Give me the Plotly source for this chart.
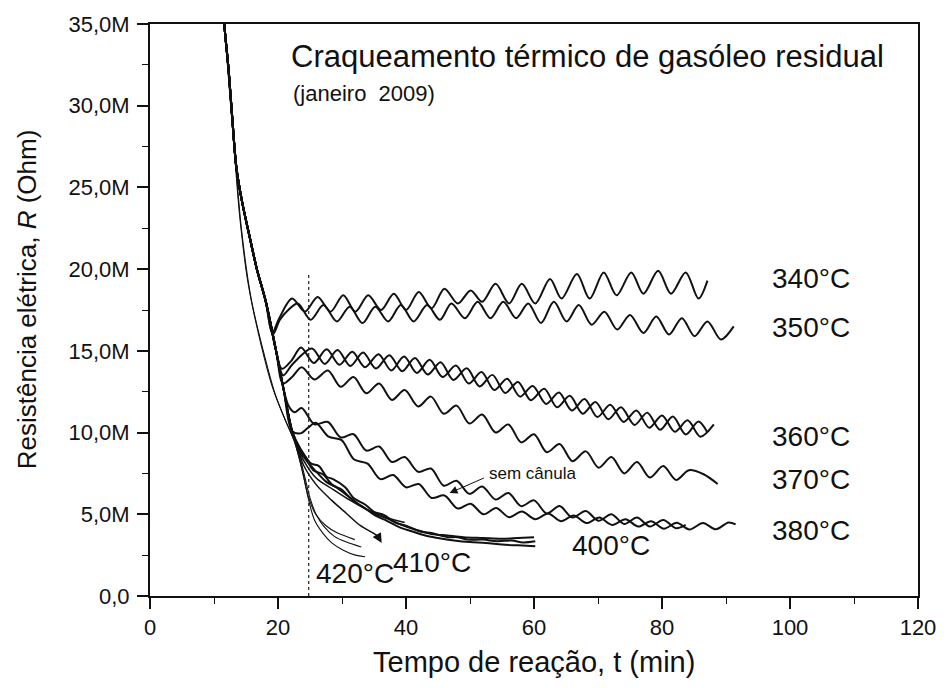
import plotly.graph_objects as go

# ---------------------------------------------------------------------------
# Data: reaction time t (min) and electrical resistance R (MOhm)
# ---------------------------------------------------------------------------

# common initial decay shared by the runs
decay_t = [11.0, 11.6, 12.3, 12.9, 13.5, 14.4, 15.5, 16.7, 18.1, 19.7, 20.9, 22.2, 23.6, 24.8, 26.4]
decay_r = [38.3, 35.0, 32.1, 29.0, 26.2, 24.1, 22.1, 20.0, 18.0, 15.0, 12.6, 10.1, 8.0, 6.0, 4.45]

# slightly earlier decays (two of the 420 °C runs)
early_a_t = [11.0, 11.6, 12.3, 12.9, 13.4, 14.3, 15.8, 17.7, 19.6, 21.2]
early_a_r = [38.3, 35.0, 32.1, 29.0, 26.4, 22.4, 18.2, 15.0, 12.3, 10.7]
early_b_t = [11.0, 11.6, 12.2, 12.8, 13.3, 14.0, 15.3, 17.1, 19.2, 21.0]
early_b_r = [38.3, 35.0, 32.0, 29.0, 26.6, 23.3, 19.2, 15.8, 12.7, 10.9]

t_340 = [19.1, 20.2, 22.2, 24.2, 26.2, 28.2, 30.2, 32.1, 34.1, 36.1, 38.1, 40.0, 42.0, 44.0, 46.0,
         48.1, 50.1, 51.9, 54.0, 56.1, 58.1, 60.2, 62.5, 64.3, 66.7, 68.7, 70.9, 72.9, 75.2, 77.1,
         79.4, 81.4, 83.7, 85.7, 87.1]
r_340 = [16.1, 17.0, 18.2, 17.4, 18.3, 17.4, 18.4, 17.4, 18.4, 17.5, 18.5, 17.5, 18.6, 17.6, 18.8,
         17.9, 18.7, 18.0, 19.1, 17.9, 19.1, 17.9, 19.4, 18.2, 19.7, 18.2, 19.8, 18.4, 19.8, 18.5,
         19.9, 18.5, 19.8, 18.2, 19.3]

t_350 = [19.2, 20.3, 21.6, 23.1, 25.1, 27.1, 29.2, 31.2, 33.2, 35.2, 37.2, 39.2, 41.2, 43.3, 45.3,
         47.1, 49.2, 51.2, 53.2, 55.2, 57.2, 59.1, 61.1, 63.1, 65.1, 67.0, 69.0, 71.0, 73.0, 75.0,
         77.1, 79.1, 81.1, 83.1, 85.1, 87.1, 89.2, 91.2]
r_350 = [16.0, 16.9, 17.5, 17.9, 16.9, 17.8, 16.8, 17.7, 16.7, 17.7, 16.8, 17.8, 16.8, 17.8, 16.9,
         17.9, 17.0, 18.0, 17.0, 18.0, 17.0, 17.9, 16.7, 18.0, 16.8, 17.8, 16.6, 17.4, 16.3, 17.2,
         16.1, 17.1, 16.0, 17.0, 15.9, 16.8, 15.7, 16.5]

t_360a = [20.6, 22.1, 23.6, 25.6, 27.6, 29.6, 31.6, 33.6, 35.7, 37.7, 39.7, 41.7, 43.7, 45.7, 47.8,
          49.8, 51.8, 53.8, 55.8, 57.8, 59.8, 61.9, 63.9, 65.9, 67.9, 69.9, 71.9, 74.0, 76.0, 78.0,
          80.0, 82.0, 84.0, 86.0, 88.1]
r_360a = [13.9, 14.4, 15.2, 14.25, 15.1, 14.15, 14.95, 14.0, 14.8, 13.8, 14.65, 13.65, 14.45, 13.4, 14.1,
          13.0, 13.7, 12.6, 13.3, 12.2, 12.85, 11.75, 12.45, 11.35, 12.05, 10.95, 11.7, 10.65, 11.35, 10.3,
          11.05, 10.05, 10.75, 9.75, 10.5]

t_360b = [20.8, 22.3, 25.3, 27.3, 29.3, 31.3, 33.3, 35.3, 37.4, 39.4, 41.4, 43.4, 45.4, 47.4, 49.5,
          51.5, 53.5, 55.5, 57.5, 59.5, 61.6, 63.6, 65.6, 67.6, 69.6, 71.6, 73.6, 75.7, 77.7, 79.7,
          81.7, 83.7, 85.7, 87.1]
r_360b = [13.5, 14.2, 15.15, 14.2, 15.05, 14.08, 14.9, 13.92, 14.73, 13.75, 14.56, 13.55, 14.3, 13.22, 13.93,
          12.82, 13.53, 12.42, 13.1, 11.98, 12.68, 11.55, 12.25, 11.15, 11.87, 10.82, 11.55, 10.47, 11.22, 10.17,
          10.98, 9.88, 10.67, 10.0]

t_370 = [20.8, 22.2, 23.7, 25.7, 27.8, 29.8, 31.8, 33.8, 35.8, 37.8, 39.8, 41.9, 43.9, 45.9, 47.9,
         49.9, 51.9, 54.0, 56.0, 58.0, 60.0, 62.0, 64.0, 66.0, 68.1, 70.1, 72.1, 74.1, 76.1, 78.1,
         80.2, 82.2, 84.2, 86.5, 88.7]
r_370 = [13.0, 13.4, 14.0, 13.25, 13.8, 12.8, 13.4, 12.4, 13.0, 12.0, 12.6, 11.6, 12.2, 11.15, 11.65,
         10.55, 11.1, 10.0, 10.5, 9.4, 9.9, 8.8, 9.3, 8.25, 8.85, 7.85, 8.5, 7.5, 8.2, 7.25,
         7.95, 7.1, 7.7, 7.45, 6.85]

# run without cannula
t_sem = [21.7, 22.6, 23.7, 25.7, 27.8, 29.8, 31.8, 33.8, 35.8, 37.8, 39.8, 41.9, 43.9, 45.9, 47.9,
         49.9, 51.9, 54.0, 56.0, 58.0, 60.0, 62.0, 64.0, 66.0, 68.1, 70.1, 72.1, 74.1, 76.1, 78.1,
         80.2, 82.2, 83.7]
r_sem = [11.6, 11.25, 11.5, 10.5, 10.65, 9.7, 9.9, 8.9, 9.15, 8.2, 8.5, 7.6, 7.8, 6.75, 7.05,
         6.25, 6.7, 5.9, 6.3, 5.5, 5.85, 5.05, 5.5, 4.8, 5.2, 4.6, 5.0, 4.4, 4.8, 4.25,
         4.65, 4.15, 4.35]

t_380 = [23.5, 24.7, 25.9, 27.9, 29.9, 31.9, 34.0, 36.0, 38.0, 40.0, 42.0, 44.0, 46.0, 48.1, 50.1,
         52.1, 54.1, 56.1, 58.1, 60.2, 62.2, 64.2, 66.2, 68.2, 70.2, 72.2, 74.3, 76.3, 78.3, 80.3,
         82.3, 84.3, 86.4, 88.4, 90.4, 91.5]
r_380 = [9.95, 10.3, 10.6, 9.75, 9.55, 8.35, 8.1, 7.15, 7.4, 6.65, 6.85, 6.0, 6.15, 5.35, 5.65,
         5.0, 5.38, 4.82, 5.17, 4.7, 5.05, 4.58, 4.92, 4.46, 4.8, 4.35, 4.7, 4.25, 4.58, 4.12,
         4.48, 4.07, 4.47, 4.08, 4.5, 4.38]

t_400a = [23.1, 24.0, 25.2, 26.4, 27.6, 28.6, 30.5, 31.8, 33.6, 35.0, 36.6, 38.3, 40.0, 42.3, 44.0,
          46.5, 48.0, 49.6, 52.0, 54.3, 56.5, 58.3, 60.2]
r_400a = [9.3, 8.7, 8.1, 7.95, 7.3, 7.15, 6.65, 6.0, 5.6, 5.15, 4.95, 4.5, 4.3, 3.95, 3.85,
          3.6, 3.6, 3.45, 3.45, 3.35, 3.4, 3.28, 3.35]
t_400b = [23.3, 24.3, 25.5, 27.0, 28.5, 30.0, 31.8, 33.5, 35.3, 37.0, 39.0, 41.0, 43.0, 45.0, 47.5,
          50.0, 52.5, 55.0, 57.5, 60.2]
r_400b = [9.1, 8.5, 7.7, 7.45, 6.8, 6.5, 5.8, 5.4, 4.9, 4.6, 4.2, 3.95, 3.7, 3.55, 3.4,
          3.3, 3.25, 3.15, 3.1, 3.05]
t_400c = [23.4, 24.6, 26.0, 27.5, 29.3, 31.0, 33.0, 35.0, 37.0, 39.0, 41.5, 44.0, 46.5, 49.0, 52.0,
          55.0, 57.5, 60.0]
r_400c = [8.9, 8.2, 7.6, 7.0, 6.6, 6.1, 5.5, 5.05, 4.75, 4.4, 4.05, 3.8, 3.7, 3.6, 3.55,
          3.5, 3.55, 3.6]

t_410a = [23.2, 24.0, 26.0, 28.7, 31.3, 34.1, 36.9, 39.8]
r_410a = [9.0, 8.3, 7.2, 6.5, 5.85, 5.25, 4.8, 4.5]
t_410b = [23.3, 24.0, 26.0, 28.4, 30.7, 32.9, 34.9, 36.0]
r_410b = [8.8, 8.0, 6.8, 5.85, 5.05, 4.3, 3.85, 3.55]

t_420a = [22.8, 24.0, 25.0, 26.0, 27.3, 28.8, 30.7, 33.0]
r_420a = [9.3, 7.6, 6.0, 4.95, 4.2, 3.65, 3.3, 3.0]
t_420b = [22.6, 23.9, 24.8, 25.7, 27.0, 28.4, 30.2, 32.1, 33.6]
r_420b = [9.4, 7.5, 5.85, 4.65, 3.85, 3.25, 2.8, 2.5, 2.4]
t_420c = [25.9, 27.5, 29.3, 31.0, 32.0]
r_420c = [5.0, 4.3, 3.85, 3.6, 3.45]

# temperature labels: (text, t, R)
temp_labels = [
    ("340°C", 96.9, 19.4),
    ("350°C", 96.9, 16.4),
    ("360°C", 96.9, 9.76),
    ("370°C", 96.9, 7.13),
    ("380°C", 96.9, 4.02),
    ("400°C", 65.6, 3.1),
    ("410°C", 37.7, 2.07),
    ("420°C", 25.6, 1.4),
]

y_tickvals = [0, 5, 10, 15, 20, 25, 30, 35]
y_ticktext = ["0,0", "5,0M", "10,0M", "15,0M", "20,0M", "25,0M", "30,0M", "35,0M"]
x_tickvals = [0, 20, 40, 60, 80, 100, 120]

marker_t = 24.8      # dashed reference time
marker_top = 19.8


def until(ts, rs, t_max):
    """Prefix of a path up to (and including) time t_max."""
    out_t, out_r = [], []
    for a, b in zip(ts, rs):
        if a <= t_max + 1e-9:
            out_t.append(a)
            out_r.append(b)
    return out_t, out_r


runs = [
    # (prefix path, cut time, own t, own R, width)
    (decay_t, decay_r, 18.1, t_340, r_340, 2.0),
    (decay_t, decay_r, 18.1, t_350, r_350, 2.0),
    (decay_t, decay_r, 19.7, t_360a, r_360a, 2.0),
    (decay_t, decay_r, 19.7, t_360b, r_360b, 2.0),
    (decay_t, decay_r, 19.7, t_370, r_370, 2.0),
    (decay_t, decay_r, 20.9, t_sem, r_sem, 2.0),
    (decay_t, decay_r, 22.2, t_380, r_380, 2.0),
    (decay_t, decay_r, 22.2, t_400a, r_400a, 2.0),
    (decay_t, decay_r, 22.2, t_400b, r_400b, 2.0),
    (decay_t, decay_r, 22.2, t_400c, r_400c, 2.0),
    (decay_t, decay_r, 22.2, t_410a, r_410a, 1.5),
    (decay_t, decay_r, 22.2, t_410b, r_410b, 1.5),
    (early_a_t, early_a_r, 21.2, t_420a, r_420a, 1.1),
    (early_b_t, early_b_r, 21.0, t_420b, r_420b, 1.1),
    (decay_t, decay_r, 24.8, t_420c, r_420c, 1.1),
]

fig = go.Figure()

for pt, pr, cut, ot, orr, w in runs:
    ht, hr = until(pt, pr, cut)
    fig.add_trace(go.Scatter(
        x=ht + ot, y=hr + orr, mode="lines",
        line=dict(color="#111111", width=w, shape="spline", smoothing=0.9),
        showlegend=False, hoverinfo="skip",
    ))

# dashed reference line
fig.add_shape(type="line", x0=marker_t, x1=marker_t, y0=0, y1=marker_top,
              xref="x", yref="y", line=dict(color="#222222", width=1.2, dash="3px,3px"))

font_family = "Liberation Sans, Arial, sans-serif"
annotations = []
for txt, tx, ty in temp_labels:
    annotations.append(dict(x=tx, y=ty, xref="x", yref="y", text=txt, showarrow=False,
                            xanchor="left", yanchor="middle",
                            font=dict(family=font_family, size=28, color="#111111")))

# "sem cânula" note with its arrow
annotations.append(dict(x=52.7, y=7.5, xref="x", yref="y", text="sem cânula", showarrow=False,
                        xanchor="left", yanchor="middle",
                        font=dict(family=font_family, size=17, color="#111111")))
annotations.append(dict(x=46.8, y=6.3, xref="x", yref="y", ax=52.4, ay=7.26, axref="x", ayref="y",
                        text="", showarrow=True, arrowhead=2, arrowsize=1.6, arrowwidth=1,
                        arrowcolor="#111111", standoff=0, startstandoff=0))
# arrow marking the end of a 410 °C run
annotations.append(dict(x=36.2, y=3.25, xref="x", yref="y", ax=35.3, ay=3.85, axref="x", ayref="y",
                        text="", showarrow=True, arrowhead=2, arrowsize=1.6, arrowwidth=1.2,
                        arrowcolor="#111111", standoff=0, startstandoff=0))

# chart titles
annotations.append(dict(x=0.181, y=0.9425, xref="paper", yref="paper",
                        text="Craqueamento térmico de gasóleo residual", showarrow=False,
                        xanchor="left", yanchor="middle",
                        font=dict(family=font_family, size=31, color="#111111")))
annotations.append(dict(x=0.1835, y=0.878, xref="paper", yref="paper",
                        text="(janeiro\u00a0 2009)", showarrow=False,
                        xanchor="left", yanchor="middle",
                        font=dict(family=font_family, size=22, color="#111111")))

# axis titles
annotations.append(dict(x=0.5, y=-0.115, xref="paper", yref="paper",
                        text="Tempo de reação, t (min)", showarrow=False,
                        xanchor="center", yanchor="middle",
                        font=dict(family=font_family, size=29, color="#111111")))
annotations.append(dict(x=-0.160, y=0.519, xref="paper", yref="paper",
                        text="Resistência elétrica, <i>R</i> (Ohm)", showarrow=False,
                        textangle=-90, xanchor="center", yanchor="middle",
                        font=dict(family=font_family, size=26, color="#111111")))

axis_common = dict(
    showgrid=False, zeroline=False, showline=True, linecolor="#111111", linewidth=2,
    mirror=True, ticks="outside", ticklen=11, tickwidth=1.6, tickcolor="#111111",
    tickfont=dict(family=font_family, size=22, color="#111111"),
)

fig.update_layout(
    width=948, height=688,
    margin=dict(l=150, r=24, t=22, b=92),
    paper_bgcolor="white", plot_bgcolor="white",
    annotations=annotations,
    xaxis=dict(range=[0, 120], tickmode="array", tickvals=x_tickvals,
               minor=dict(dtick=10, ticklen=6, tickwidth=1.4, tickcolor="#111111", ticks="outside"),
               **axis_common),
    yaxis=dict(range=[0, 35], tickmode="array", tickvals=y_tickvals, ticktext=y_ticktext,
               ticklabelstandoff=3,
               minor=dict(dtick=2.5, ticklen=6, tickwidth=1.4, tickcolor="#111111", ticks="outside"),
               **axis_common),
)

fig.write_html("out.html")
